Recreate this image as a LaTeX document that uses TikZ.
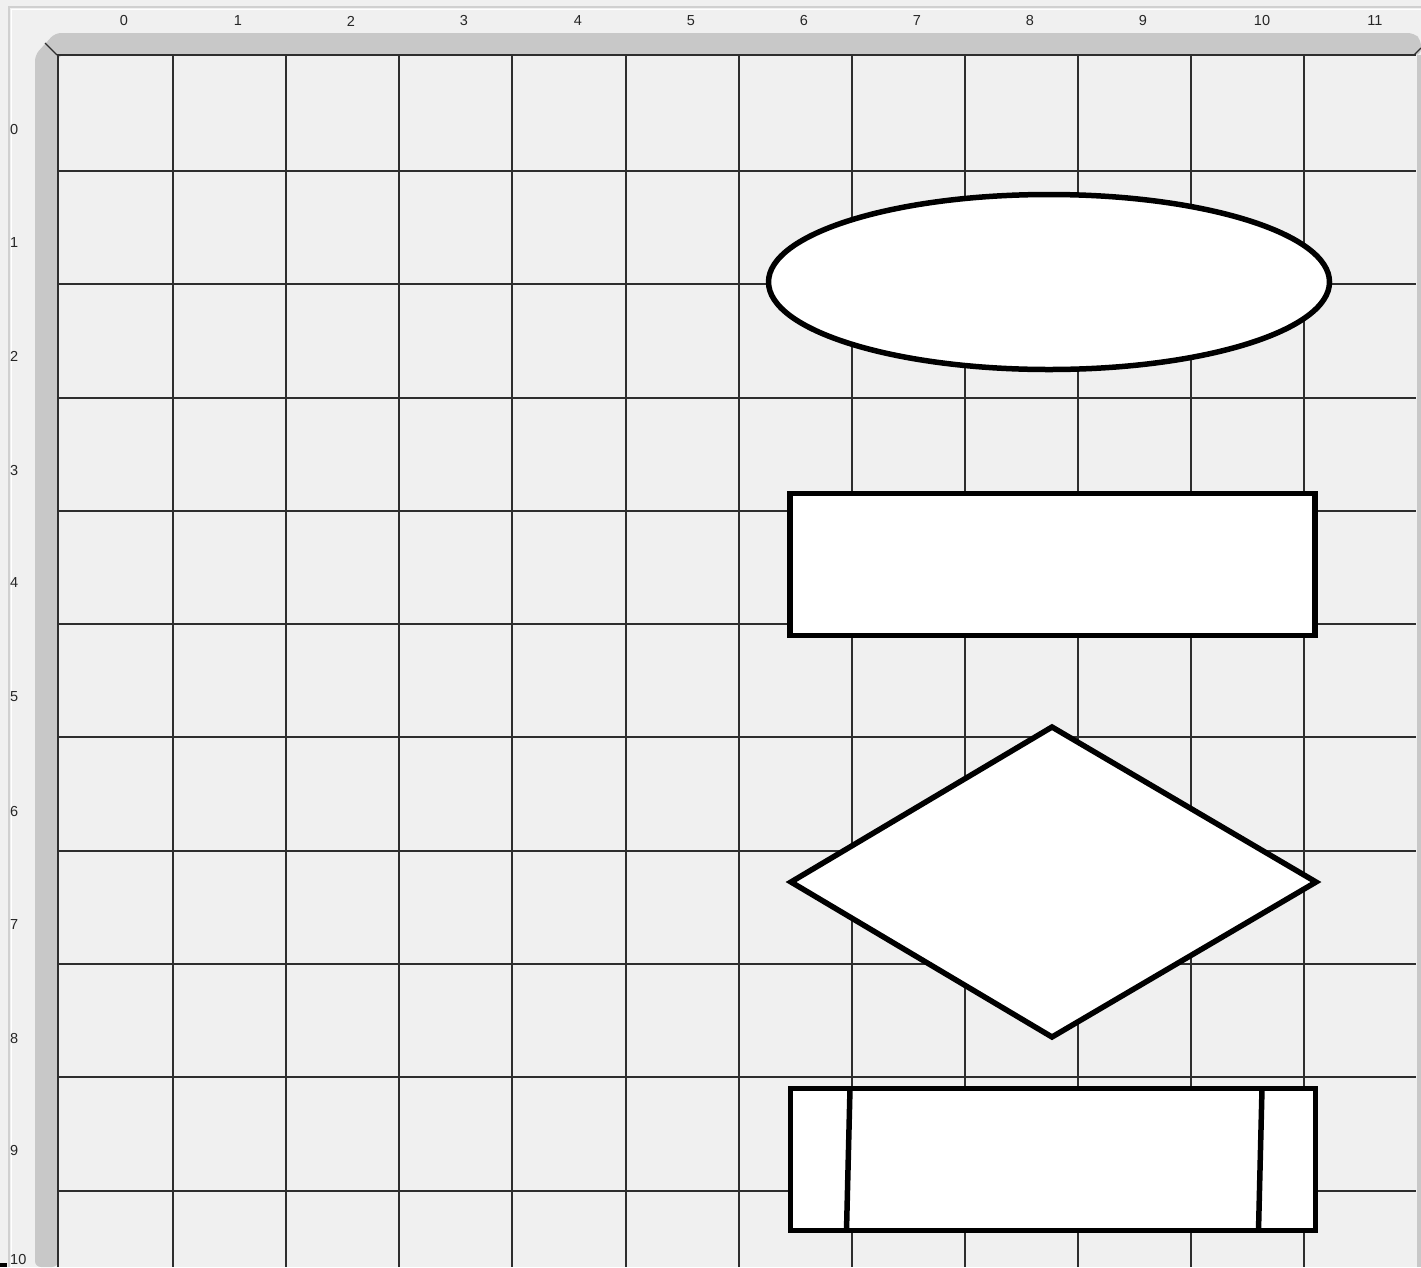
\documentclass[tikz,border=0pt]{standalone}
\usepackage{fontspec}
\setmainfont{Liberation Sans}
\usetikzlibrary{shapes.geometric}
\definecolor{bgc}{HTML}{F0F0F0}
\definecolor{bandc}{HTML}{C8C8C8}
\definecolor{gridc}{HTML}{2E2E2E}
\definecolor{framec}{HTML}{D0D0D0}
\begin{document}
\begin{tikzpicture}[x=1pt,y=-1pt,
  gridline/.style={draw=gridc, line width=1.6pt},
  shapeline/.style={draw=black, line width=5.5pt, fill=white},
  rulenum/.style={font=\fontsize{14.5}{14.5}\selectfont, inner sep=0pt, text=black!85}]
\useasboundingbox (0,0) rectangle (1421,1267);
\fill[bgc] (0,0) rectangle (1421,1267);
% outer frame
\draw[framec, line width=1.5pt] (9,1267) -- (9,7) -- (1421,7);
\draw[white, line width=1pt] (11,1267) -- (11,9) -- (1421,9);
% ruler bands
\fill[bandc, rounded corners=6pt] (35,1267) -- (35,55) -- (55,33) -- (1414,33) -- (1421,40) -- (1421,55) -- (58,55) -- (58,1267) -- cycle;
\fill[bandc] (1417,55) rectangle (1421,1267);
\draw[gridc, line width=1.2pt] (45,43) -- (57,55);
\draw[gridc, line width=1.2pt] (1414,55) -- (1421,48);
% grid
\foreach \gx in {58,173,286,399,512,626,739,852,965,1078,1191,1304}
  \draw[gridline] (\gx,55) -- (\gx,1267);
\foreach \gy in {55,171,284,398,511,624,737,851,964,1077,1191}
  \draw[gridline] (57,\gy) -- (1416,\gy);
% ruler numbers
\foreach \n/\px in {0/124,1/238,2/351,3/464,4/578,5/691,6/804,7/917,8/1030,9/1143,10/1262,11/1375}
  \node[rulenum] (top\n) at (\px,21) {\n};
\foreach \n/\py in {0/130,1/243,2/356,3/470,4/583,5/697,6/811,7/924,8/1038,9/1150,10/1259}
  \node[rulenum, anchor=west] (left\n) at (10,\py) {\n};
\fill[black] (0,1263) rectangle (7,1267);
% terminator (ellipse)
\node[shapeline, ellipse, minimum width=561pt, minimum height=175pt, inner sep=0pt] (term) at (1049,282) {};
% process (rectangle)
\node[shapeline, rectangle, minimum width=525pt, minimum height=142pt, inner sep=0pt] (proc) at (1052.5,564.5) {};
% decision (diamond)
\coordinate (dtop) at (1052,727);
\coordinate (dleft) at (791,882);
\coordinate (dright) at (1316,882);
\coordinate (dbot) at (1052,1037);
\draw[shapeline, line join=miter] (dtop) -- (dright) -- (dbot) -- (dleft) -- cycle;
% predefined process
\node[shapeline, rectangle, minimum width=525pt, minimum height=142pt, inner sep=0pt] (pred) at (1053,1159.5) {};
\draw[black, line width=5.5pt] (850,1088.5) -- (846.5,1230.5);
\draw[black, line width=5.5pt] (1262,1088.5) -- (1258.5,1230.5);
\end{tikzpicture}
\end{document}
